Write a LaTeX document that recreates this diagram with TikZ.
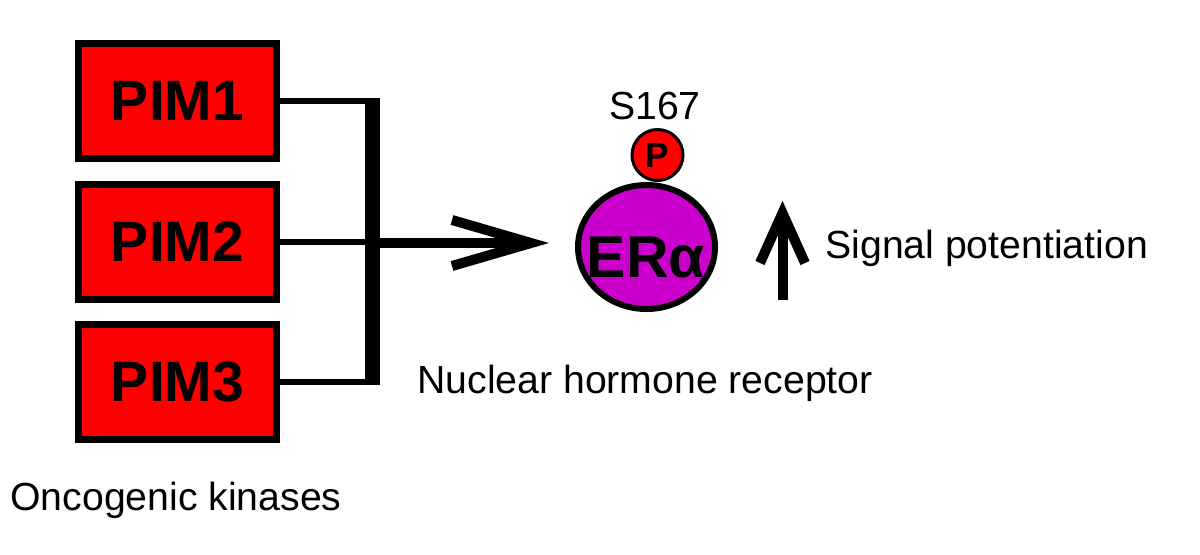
\documentclass[tikz,border=0pt]{standalone}
\usepackage{fontspec}
\setmainfont{Liberation Sans}
\usetikzlibrary{shapes.geometric}
\definecolor{pimred}{RGB}{255,0,0}
\definecolor{erpurple}{RGB}{204,0,204}
\begin{document}
\begin{tikzpicture}[x=0.5pt,y=-0.5pt,
  kinase/.style={draw=black,fill=pimred,line width=3.5pt,minimum width=99pt,minimum height=57.5pt,inner sep=0pt,
     font=\fontsize{28.5}{34}\selectfont\bfseries},
  thinline/.style={line width=3pt,line cap=butt},
  plain/.style={font=\fontsize{19.6}{23}\selectfont,inner sep=0pt},
  barb/.style={line width=5pt,line join=miter,line cap=butt}]
\useasboundingbox (0,0) rectangle (1200,554);
% kinases
\node[kinase] (p1) at (177.5,101) {PIM1};
\node[kinase] (p2) at (177.5,242) {PIM2};
\node[kinase] (p3) at (177.5,382) {PIM3};
% bar
\coordinate (bartop) at (372.5,98);
\coordinate (barbot) at (372.5,385);
\coordinate (barright) at (380,243);
\draw[line width=7.5pt,line cap=butt] (bartop) -- (barbot);
\draw[thinline] (p1.east) -- (p1.east -| bartop);
\draw[thinline] (p2.east) -- (p2.east -| bartop);
\draw[thinline] (p3.east) -- (p3.east -| bartop);
% main arrow
\coordinate (tipv) at (531,243);
\coordinate (b1) at (452,220);
\coordinate (b2) at (452,266);
\draw[line width=5pt,line cap=butt] (barright) -- (tipv);
\draw[barb] (b1) -- (tipv) -- (b2);
% ER alpha
\node[ellipse,draw=black,fill=erpurple,line width=3pt,minimum width=68.5pt,minimum height=62pt,inner sep=0pt] (era) at (646.5,247) {};
\node[anchor=base,inner sep=0pt,font=\fontsize{29.5}{35}\selectfont\bfseries] (eratext) at (646,277) {ERα};
\node[circle,draw=black,fill=pimred,line width=1.5pt,minimum size=25.5pt,inner sep=0pt,font=\fontsize{17.5}{21}\selectfont\bfseries] (ph) at (657.5,155) {P};
\node[plain,anchor=base] (s167) at (655,119) {S167};
% up arrow
\coordinate (ubot) at (782.5,300);
\coordinate (utip) at (782.5,213);
\coordinate (ul) at (760,263);
\coordinate (ur) at (805,263);
\draw[line width=5pt,line cap=butt] (ubot) -- (utip);
\draw[barb] (ul) -- (utip) -- (ur);
% labels
\node[plain,anchor=base west] (sig) at (825,258) {Signal potentiation};
\node[plain,anchor=base west] (nhr) at (417,393) {Nuclear hormone receptor};
\node[plain,anchor=base west] (onc) at (10,510) {Oncogenic kinases};
\end{tikzpicture}
\end{document}
